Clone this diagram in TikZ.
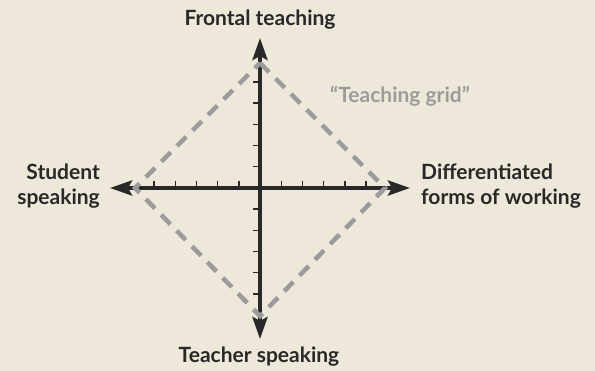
\documentclass[tikz,border=0pt]{standalone}
\usepackage{fontspec}
\setmainfont{Lato}
\usepackage{tikz}
\usetikzlibrary{arrows.meta, positioning, calc}
\definecolor{gridBg}{RGB}{237,232,218}
\definecolor{gridInk}{RGB}{40,40,40}
\definecolor{gridGray}{RGB}{155,155,155}
\tikzset{
  axisline/.style={line width=4pt, gridInk,
    {Stealth[length=22pt,width=15pt,inset=4pt]}-{Stealth[length=22pt,width=15pt,inset=4pt]}},
  tickline/.style={line width=1.4pt, gridInk},
  gridline/.style={line width=4.5pt, gridGray, dash pattern=on 13pt off 9pt},
  polelabel/.style={font=\fontsize{21}{25}\selectfont\bfseries, text=gridInk, inner sep=0pt},
}
\begin{document}
\begin{tikzpicture}[x=1pt, y=-1pt]
% ---- canvas ----
\fill[gridBg] (0,0) rectangle (595,371);
\useasboundingbox (0,0) rectangle (595,371);
% ---- axis ends ----
\coordinate (o) at (260,188);
\coordinate (west) at (110,188);
\coordinate (east) at (410,188);
\coordinate (north) at (260,38);
\coordinate (south) at (260,339);
% ---- diamond corners ----
\coordinate (dtop) at (260,63);
\coordinate (dright) at (385,188);
\coordinate (dbottom) at (260,316);
\coordinate (dleft) at (135,188);
% axes
\draw[axisline] (west) -- (east);
\draw[axisline] (south) -- (north);
% ticks: 5 each side, step 21.2
\foreach \k in {1,...,5}{
  \draw[tickline] ($(o)+(21.2*\k,0)$) -- ++(0,-7);
  \draw[tickline] ($(o)+(-21.2*\k,0)$) -- ++(0,-7);
  \draw[tickline] ($(o)+(0,21.2*\k)$) -- ++(-7,0);
  \draw[tickline] ($(o)+(0,-21.2*\k)$) -- ++(-7,0);
}
% teaching grid
\draw[gridline] (dtop) -- (dright) -- (dbottom) -- (dleft) -- cycle;
% ---- labels ----
\node[polelabel, anchor=base] (front) at (260,26) {Frontal teaching};
\node[polelabel, anchor=base] (teach) at (259,363) {Teacher speaking};
\node[polelabel, anchor=base east, align=right] (stud) at (100,205) {Student\\speaking};
\node[polelabel, anchor=base west, align=left] (diff) at (421,205) {Differentiated\\forms of working};
\node[polelabel, text=gridGray, anchor=base west] (tgrid) at (330,103) {“Teaching grid”};
\end{tikzpicture}
\end{document}
